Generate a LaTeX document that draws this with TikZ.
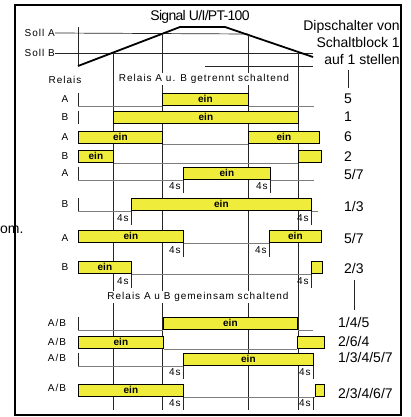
\documentclass[tikz,border=0pt]{standalone}
\usepackage{fontspec}
\setmainfont{Liberation Sans}
\newfontfamily\spaced[LetterSpace=10]{Liberation Sans}
\newfontfamily\narrow[LetterSpace=-5]{Liberation Sans}
\usetikzlibrary{positioning}
\definecolor{barfill}{RGB}{240,236,60}
\definecolor{basegray}{RGB}{125,125,125}
\tikzset{
  bar/.style={draw=black, fill=barfill, line width=0.8pt, inner sep=0pt, minimum height=12.5pt, anchor=south west, font=\fontsize{10}{10}\selectfont\bfseries},
  grid/.style={draw=black!85, line width=0.7pt},
  base/.style={draw=basegray, line width=0.8pt},
  ramp/.style={draw=black, line width=1.8pt},
  lbl/.style={inner sep=0pt, font=\fontsize{10}{10}\spaced},
  big/.style={inner sep=0pt, font=\fontsize{14}{17}\selectfont},
  dip/.style={inner sep=0pt, anchor=west, font=\fontsize{14}{17}\selectfont},
  title/.style={fill=white, inner sep=1pt, font=\fontsize{10}{10}\spaced}
}
\begin{document}
\begin{tikzpicture}[x=1pt, y=-1pt]
\useasboundingbox (0,0) rectangle (411,417);
\draw[line width=2pt] (15,5) rectangle (401,415);
\node[big, anchor=west] (om) at (0,230) {om.};
% Signal
\node[lbl, anchor=east] (sa) at (55,33) {Soll A};
\node[lbl, anchor=east] (sb) at (55,53) {Soll B};
\draw[grid] (sa.east) -- (248,34);
\draw[grid] (sb.east) -- (313,53);
\draw[grid] (205,66) -- (313,66);
\draw[grid] (78,27) -- (78,66);
\draw[ramp] (78,66) -- (180,27) -- (225,27) -- (313,57);
\node[big, font=\fontsize{14}{17}\narrow] (sig) at (200,17) {Signal U/I/PT-100};
\node[big, align=right, anchor=north east] (dip) at (400,20) {Dipschalter von\\Schaltblock 1\\auf 1 stellen};
\foreach \x/\y in {113/53, 162/34, 248/35, 298/53} \draw[grid] (\x,\y) -- (\x,410);
\draw[grid] (348,70) -- (348,88);
\draw[grid] (354,280) -- (354,310);
\node[lbl] (rel) at (65,80) {Relais};
\node[title] (t1) at (204,79) {Relais A u. B getrennt schaltend};
\node[title] (t2) at (198,297) {Relais A u B gemeinsam schaltend};
% Relais getrennt
\node[lbl] (l1) at (65,99) {A};
\draw[grid] (78,93) -- (78,106);
\node[bar, minimum width=86pt] (b1) at (162,106) {ein};
\draw[base] (78,106) -- (b1.south west);
\draw[base] (b1.south east) -- (314,106);
\node[dip] (d1) at (344,99) {5};
\node[lbl] (l2) at (65,117) {B};
\draw[grid] (78,111) -- (78,124);
\node[bar, minimum width=185pt] (b2) at (113,124) {ein};
\node[dip] (d2) at (344,117) {1};
\node[lbl] (l3) at (65,137) {A};
\node[bar, minimum width=84pt] (b3a) at (78,144) {ein};
\node[bar, minimum width=71pt] (b3b) at (248,144) {ein};
\draw[base] (b3a.south east) -- (b3b.south west);
\node[dip] (d3) at (344,137) {6};
\node[lbl] (l4) at (65,156) {B};
\node[bar, minimum width=35pt] (b4a) at (78,163) {ein};
\node[bar, minimum width=23pt] (b4b) at (298,163) {};
\draw[base] (b4a.south east) -- (b4b.south west);
\node[dip] (d4) at (344,157) {2};
\node[lbl] (l5) at (65,173) {A};
\draw[grid] (78,167) -- (78,180);
\node[bar, minimum width=87pt] (b5) at (183,180) {ein};
\draw[base] (78,180) -- (b5.south west);
\draw[base] (b5.south east) -- (314,180);
\draw[grid] (183,180) -- (183,193) node[midway, left, lbl, inner sep=2pt]{4s};
\draw[grid] (270,180) -- (270,193) node[midway, left, lbl, inner sep=2pt]{4s};
\node[dip] (d5) at (344,174) {5/7};
\node[lbl] (l6) at (65,204) {B};
\draw[grid] (78,198) -- (78,211);
\node[bar, minimum width=180pt] (b6) at (131,211) {ein};
\draw[base] (78,211) -- (b6.south west);
\draw[base] (b6.south east) -- (318,211);
\draw[grid] (131,211) -- (131,225) node[midway, left, lbl, inner sep=2pt]{4s};
\draw[grid] (311,211) -- (311,225) node[midway, left, lbl, inner sep=2pt]{4s};
\node[dip] (d6) at (344,206) {1/3};
\node[lbl] (l7) at (65,238) {A};
\node[bar, minimum width=105pt] (b7a) at (78,243) {ein};
\node[bar, minimum width=52pt] (b7b) at (269,243) {ein};
\draw[base] (b7a.south east) -- (b7b.south west);
\draw[grid] (183,243) -- (183,257) node[midway, left, lbl, inner sep=2pt]{4s};
\draw[grid] (269,243) -- (269,257) node[midway, left, lbl, inner sep=2pt]{4s};
\node[dip] (d7) at (344,238) {5/7};
\node[lbl] (l8) at (65,267) {B};
\node[bar, minimum width=53pt] (b8a) at (78,274) {ein};
\node[bar, minimum width=11pt] (b8b) at (311,274) {};
\draw[base] (b8a.south east) -- (b8b.south west);
\draw[grid] (131,274) -- (131,288) node[midway, left, lbl, inner sep=2pt]{4s};
\draw[grid] (311,274) -- (311,288) node[midway, left, lbl, inner sep=2pt]{4s};
\node[dip] (d8) at (344,268) {2/3};
% Relais gemeinsam
\node[lbl] (l9) at (57,323) {A/B};
\draw[grid] (78,317) -- (78,330);
\node[bar, minimum width=134pt] (b9) at (163,330) {ein};
\draw[base] (78,330) -- (b9.south west);
\draw[base] (b9.south east) -- (313,330);
\node[dip] (d9) at (338,322) {1/4/5};
\node[lbl] (l10) at (57,342) {A/B};
\node[bar, minimum width=85pt] (b10a) at (78,349) {ein};
\node[bar, minimum width=27pt] (b10b) at (297,349) {};
\draw[base] (b10a.south east) -- (b10b.south west);
\node[dip] (d10) at (338,341) {2/6/4};
\node[lbl] (l11) at (57,358) {A/B};
\draw[grid] (78,353) -- (78,366);
\node[bar, minimum width=130pt] (b11) at (183,366) {ein};
\draw[base] (78,366) -- (b11.south west);
\draw[grid] (183,366) -- (183,379) node[midway, left, lbl, inner sep=2pt]{4s};
\draw[grid] (313,366) -- (313,379) node[midway, left, lbl, inner sep=2pt]{4s};
\node[dip] (d11) at (338,357) {1/3/4/5/7};
\node[lbl] (l12) at (57,388) {A/B};
\node[bar, minimum width=105pt] (b12a) at (78,397) {ein};
\node[bar, minimum width=9pt] (b12b) at (315,397) {};
\draw[base] (b12a.south east) -- (b12b.south west);
\draw[grid] (183,397) -- (183,410) node[midway, left, lbl, inner sep=2pt]{4s};
\draw[grid] (313,397) -- (313,410) node[midway, left, lbl, inner sep=2pt]{4s};
\node[dip] (d12) at (338,393) {2/3/4/6/7};
\end{tikzpicture}
\end{document}
